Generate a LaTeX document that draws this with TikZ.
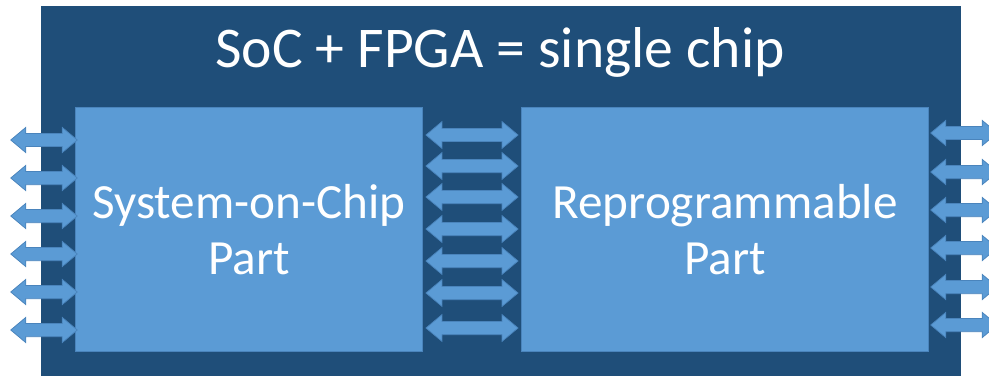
\documentclass[tikz,border=0pt]{standalone}
\usepackage{fontspec}
\setmainfont{Carlito}
\usetikzlibrary{shapes.arrows}

\definecolor{chipblue}{HTML}{1F4E79}
\definecolor{partblue}{HTML}{5B9BD5}
\definecolor{edgeblue}{HTML}{4A84BC}

\begin{document}
\begin{tikzpicture}[x=0.02cm,y=-0.02cm,
  part/.style={fill=partblue,draw=edgeblue,line width=0.2mm,inner sep=0pt,
    minimum height=4.88cm,text=white,align=center,
    font=\fontsize{28}{32}\selectfont},
  pin/.style={double arrow,fill=partblue,draw=edgeblue,line width=0.15mm,
    inner xsep=0pt,inner ysep=1.25mm,minimum height=1.33cm,
    double arrow head extend=1.2mm,double arrow tip angle=80},
  link/.style={pin,minimum height=1.84cm,double arrow head extend=1.35mm}]
\useasboundingbox (0,0) rectangle (989,375);
\clip (0,0) rectangle (989,375);

% the chip
\fill[chipblue] (41,6) rectangle (961,380);
\node[text=white,font=\fontsize{32.8}{38}\selectfont] (title) at (500,52) {SoC + FPGA = single chip};

% the two halves
\node[part,minimum width=6.96cm] (soc) at (249,229.5) {System-on-Chip\\Part};
\node[part,minimum width=8.16cm] (fpga) at (725,229.5) {Reprogrammable\\Part};

% pins on the left
\foreach \y in {140,178,216,254,292,330}
  \node[pin] (l\y) at (44,\y) {};

% links between the halves
\foreach \y in {135,166,197,229,261,293,328}
  \node[link] (m\y) at (472,\y) {};

% pins on the right
\foreach \y in {133,172,210,248,287,325}
  \node[pin] (r\y) at (964,\y) {};
\end{tikzpicture}
\end{document}
